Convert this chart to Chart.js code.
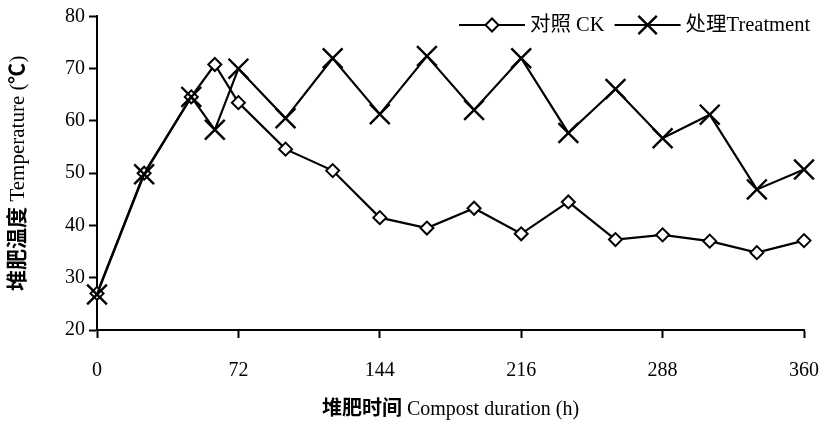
<!DOCTYPE html>
<html>
<head>
<meta charset="utf-8">
<script src="https://cdn.jsdelivr.net/npm/chart.js@4.4.1/dist/chart.umd.min.js"></script>
<style>
  @font-face {
    font-family: "CJKBold";
    src: local("Noto Sans CJK SC Bold"), local("NotoSansCJKsc-Bold"), local("Noto Sans CJK SC");
    font-weight: normal;
  }
  html, body { margin: 0; padding: 0; background: #fff; }
  #c { display: block; }
</style>
</head>
<body>
<canvas id="c" width="822" height="424"></canvas>
<script>
// ---- data ----
const hours = [0, 24, 48, 60, 72, 96, 120, 144, 168, 192, 216, 240, 264, 288, 312, 336, 360];
const ckTemp = [27.0, 50.0, 64.6, 70.8, 63.5, 54.6, 50.5, 41.5, 39.5, 43.3, 38.4, 44.5, 37.3, 38.2, 37.0, 34.8, 37.1];
const treatTemp = [26.8, 49.8, 64.6, 58.3, 70.0, 60.5, 72.0, 61.3, 72.4, 62.1, 72.0, 57.7, 66.1, 56.7, 61.2, 46.9, 50.7];
const seriesNames = ['对照 CK', '处理Treatment'];
const xTitle = '堆肥时间 Compost duration (h)';
const yTitle = '堆肥温度 Temperature (℃)';
const xMin = 0, xMax = 360, xStep = 72;
const yMin = 20, yMax = 80, yStep = 10;

const FONT = '"Liberation Serif", "Times New Roman", "Noto Sans CJK SC", serif';
const TITLE_FONT = '"Liberation Serif", "Times New Roman", "CJKBold", "Noto Sans CJK SC", serif';

const toPts = (xs, ys) => xs.map((x, i) => ({ x: x, y: ys[i] }));

// custom legend: line - marker - line, then text
const lineLegend = {
  id: 'lineLegend',
  afterDraw(chart) {
    const ctx = chart.ctx;
    const y = 25;
    let x = 459;
    const segLen = 66;
    ctx.save();
    ctx.font = '20.5px ' + FONT;
    ctx.textBaseline = 'middle';
    ctx.textAlign = 'left';
    chart.data.datasets.forEach((ds) => {
      ctx.strokeStyle = '#000';
      ctx.lineWidth = 2;
      ctx.beginPath();
      ctx.moveTo(x, y);
      ctx.lineTo(x + segLen, y);
      ctx.stroke();
      ctx.fillStyle = ds.pointBackgroundColor || '#fff';
      ctx.strokeStyle = '#000';
      ctx.lineWidth = ds.pointBorderWidth;
      Chart.helpers.drawPoint(ctx, {
        pointStyle: ds.pointStyle,
        radius: ds.legendRadius,
        borderWidth: ds.pointBorderWidth,
        rotation: 0
      }, x + segLen / 2, y);
      ctx.fillStyle = '#000';
      ctx.fillText(ds.label, x + segLen + 5, y + 1);
      x += segLen + 5 + ctx.measureText(ds.label).width + 10;
    });
    ctx.restore();
  }
};

function build() {
  Chart.defaults.font.family = FONT;
  Chart.defaults.color = '#000';
  new Chart(document.getElementById('c'), {
    type: 'line',
    data: {
      datasets: [
        {
          label: seriesNames[0],
          data: toPts(hours, ckTemp),
          borderColor: '#000',
          borderWidth: 2.2,
          pointStyle: 'rectRot',
          pointRadius: 6.5,
          legendRadius: 6.5,
          pointBackgroundColor: '#fff',
          pointBorderColor: '#000',
          pointBorderWidth: 2,
          tension: 0,
          clip: false,
          order: 1
        },
        {
          label: seriesNames[1],
          data: toPts(hours, treatTemp),
          borderColor: '#000',
          borderWidth: 2.2,
          pointStyle: 'crossRot',
          pointRadius: 14,
          legendRadius: 13,
          pointBackgroundColor: '#000',
          pointBorderColor: '#000',
          pointBorderWidth: 2.4,
          tension: 0,
          clip: false,
          order: 0
        }
      ]
    },
    options: {
      responsive: false,
      animation: false,
      devicePixelRatio: 1,
      layout: { padding: { top: 12, right: 18, left: 0, bottom: 0 } },
      plugins: {
        legend: { display: false },
        tooltip: { enabled: false }
      },
      scales: {
        x: {
          type: 'linear',
          min: xMin,
          max: xMax,
          afterBuildTicks(scale) {
            const t = [];
            for (let v = xMin; v <= xMax; v += xStep) t.push({ value: v });
            scale.ticks = t;
          },
          afterFit(scale) {
            scale.height = 94;
            scale.paddingLeft = 0;
            scale.paddingRight = 0;
          },
          grid: {
            drawOnChartArea: false,
            drawTicks: true,
            tickLength: 8,
            tickColor: '#000',
            tickWidth: 2
          },
          border: { display: true, color: '#000', width: 2 },
          ticks: { font: { size: 20 }, padding: 21, maxRotation: 0, autoSkip: false },
          title: {
            display: true,
            text: xTitle,
            font: { size: 20, family: TITLE_FONT },
            padding: { top: 0, bottom: 2 }
          }
        },
        y: {
          min: yMin,
          max: yMax,
          ticks: { stepSize: yStep, font: { size: 20 }, padding: 4 },
          afterFit(scale) {
            scale.width = 97;
            scale.paddingTop = 0;
            scale.paddingBottom = 0;
          },
          grid: {
            drawOnChartArea: false,
            drawTicks: true,
            tickLength: 8,
            tickColor: '#000',
            tickWidth: 2
          },
          border: { display: true, color: '#000', width: 2 },
          title: {
            display: true,
            text: yTitle,
            font: { size: 21, family: TITLE_FONT },
            padding: { top: 6, bottom: 0 }
          }
        }
      }
    },
    plugins: [lineLegend]
  });
}

Promise.all([
  document.fonts.load('20px CJKBold', '堆肥温度时间'),
  document.fonts.load('20px "Liberation Serif"', 'Temperature 0123456789'),
  document.fonts.load('20px "Noto Sans CJK SC"', '对照处理')
]).catch(() => {}).then(build);
</script>
</body>
</html>
